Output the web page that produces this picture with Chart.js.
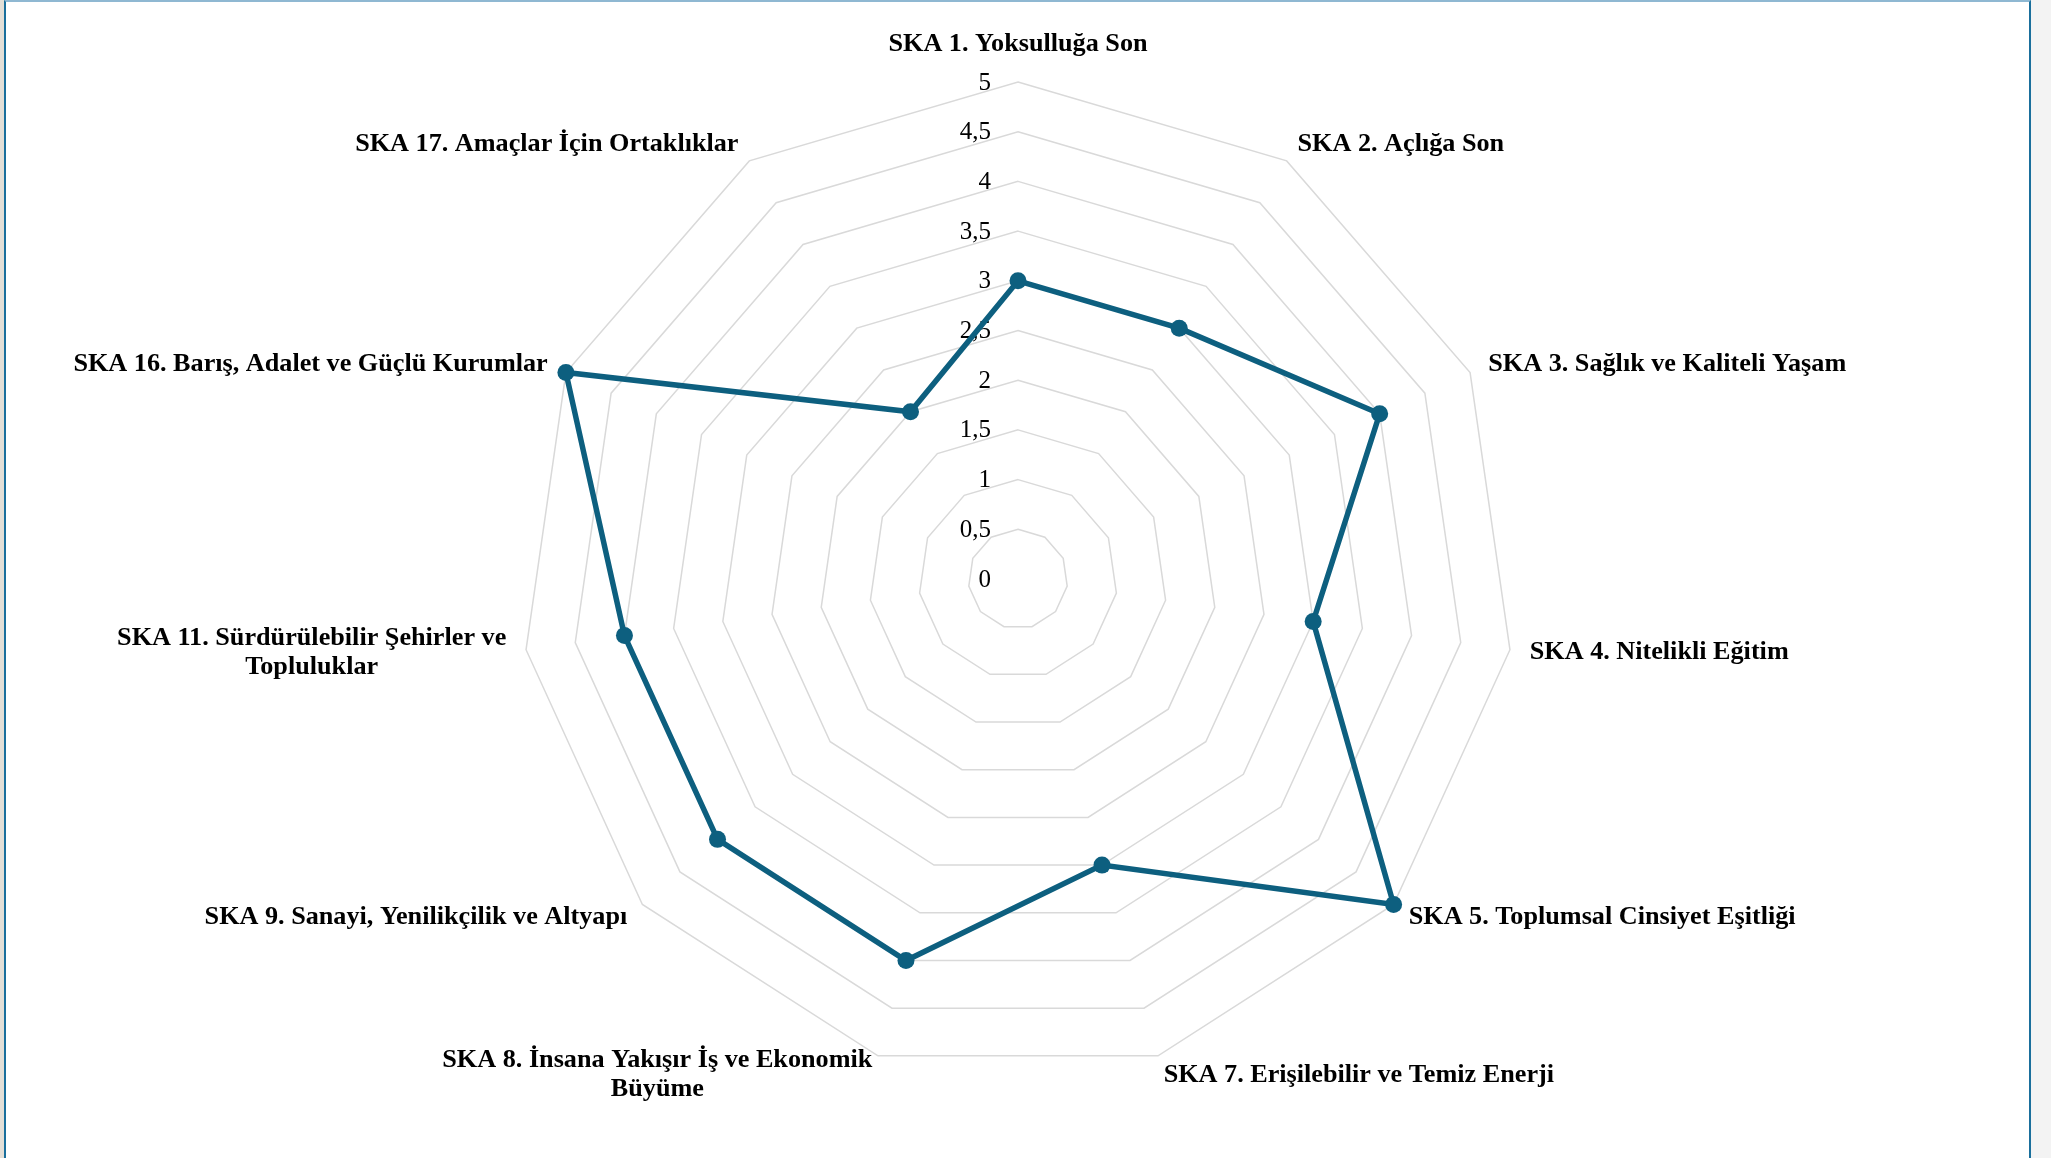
<!DOCTYPE html>
<html lang="tr">
<head>
    <meta charset="UTF-8">
    <title>SKA Değerlendirme</title>
    <script src="https://cdn.jsdelivr.net/npm/chart.js"></script>
    <style>
        html, body { margin: 0; padding: 0; }
        body {
            width: 2051px; height: 1158px; overflow: hidden; position: relative;
            background: linear-gradient(to right, #e3dfd7 0, #e3dfd7 4px, #f3f3f3 4px);
        }
        .frame {
            position: absolute; left: 4px; top: 0; width: 2023px; height: 1170px; background: #fff;
            border-left: 2px solid #1a6f9c; border-right: 2px solid #1a6f9c; border-top: 2px solid #8fb8d2;
        }
        .chart-box { position: absolute; left: 0; top: 0; width: 2051px; height: 1158px; }
    </style>
</head>
<body>
    <div class="frame"></div>
    <div class="chart-box">
        <canvas id="skaChart"></canvas>
    </div>

    <script>
        const categories = [
            'SKA 1. Yoksulluğa Son',
            'SKA 2. Açlığa Son',
            'SKA 3. Sağlık ve Kaliteli Yaşam',
            'SKA 4. Nitelikli Eğitim',
            'SKA 5. Toplumsal Cinsiyet Eşitliği',
            'SKA 7. Erişilebilir ve Temiz Enerji',
            ['SKA 8. İnsana Yakışır İş ve Ekonomik', 'Büyüme'],
            'SKA 9. Sanayi, Yenilikçilik ve Altyapı',
            ['SKA 11. Sürdürülebilir Şehirler ve', 'Topluluklar'],
            'SKA 16. Barış, Adalet ve Güçlü Kurumlar',
            'SKA 17. Amaçlar İçin Ortaklıklar'
        ];
        const scores = [3, 3, 4, 3, 5, 3, 4, 4, 4, 5, 2];
        const scaleMin = 0;
        const scaleMax = 5;
        const scaleStep = 0.5;

        const lineColor = '#0d5f7f';
        const serif = '"Liberation Serif", "Times New Roman", serif';

        // tick values and category names are drawn by hand so they sit like the Excel original
        const radarText = {
            id: 'radarText',
            beforeDatasetsDraw(chart) {
                const scale = chart.scales.r;
                const ctx = chart.ctx;
                ctx.save();
                ctx.fillStyle = '#000';
                ctx.textBaseline = 'middle';

                ctx.font = '25px ' + serif;
                ctx.textAlign = 'right';
                scale.ticks.forEach(t => {
                    const d = scale.getDistanceFromCenterForValue(t.value);
                    ctx.fillText(String(t.value).replace('.', ','), scale.xCenter - 27, scale.yCenter - d + 1);
                });

                ctx.font = 'bold 26.2px ' + serif;
                ctx.textAlign = 'center';
                const lineH = 29;
                chart.data.labels.forEach((lbl, i) => {
                    const lines = Array.isArray(lbl) ? lbl : [lbl];
                    const p = scale.getPointPosition(i, scale.drawingArea + 20);
                    const cx = Math.cos(p.angle), cy = Math.sin(p.angle);
                    const w = Math.max(...lines.map(l => ctx.measureText(l).width));
                    let x = p.x;
                    if (cx > 0.05) x += w / 2;
                    else if (cx < -0.05) x -= w / 2;
                    let y = p.y - (lines.length - 1) * lineH / 2;
                    if (Math.abs(cx) <= 0.05) y += cy * 18;
                    lines.forEach((l, k) => ctx.fillText(l, x, y + k * lineH));
                });
                ctx.restore();
            }
        };

        new Chart(document.getElementById('skaChart'), {
            type: 'radar',
            data: {
                labels: categories,
                datasets: [{
                    label: 'Puan',
                    data: scores,
                    borderColor: lineColor,
                    backgroundColor: 'transparent',
                    borderWidth: 5.5,
                    pointRadius: 8.5,
                    pointBackgroundColor: lineColor,
                    pointBorderColor: lineColor,
                    pointBorderWidth: 0,
                    fill: false
                }]
            },
            options: {
                responsive: true,
                maintainAspectRatio: false,
                animation: false,
                layout: { padding: { left: 518, right: 533, top: 82, bottom: 82 } },
                scales: {
                    r: {
                        min: scaleMin,
                        max: scaleMax,
                        ticks: { stepSize: scaleStep, display: false },
                        grid: { color: '#d9d9d9', lineWidth: 1.5 },
                        angleLines: { display: false },
                        pointLabels: { display: false }
                    }
                },
                plugins: {
                    legend: { display: false },
                    tooltip: { enabled: false }
                }
            },
            plugins: [radarText]
        });
    </script>
</body>
</html>
